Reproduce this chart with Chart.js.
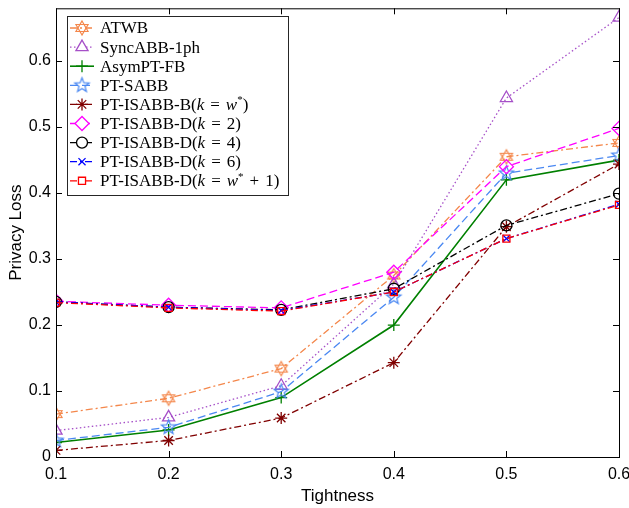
<!DOCTYPE html>
<html>
<head>
<meta charset="utf-8">
<script src="https://cdn.jsdelivr.net/npm/chart.js@4/dist/chart.umd.min.js"></script>
<style>
  html, body { margin: 0; padding: 0; background: #fff; }
  #wrap { width: 629px; height: 508px; }
</style>
</head>
<body>
<div id="wrap"><canvas id="chart" width="629" height="508"></canvas></div>
<script>
// tightness values on the x axis
const tightness = [0.1, 0.2, 0.3, 0.4, 0.5, 0.6];
const yTicks = [0, 0.1, 0.2, 0.3, 0.4, 0.5, 0.6];

const seriesNames = [
  'ATWB', 'SyncABB-1ph', 'AsymPT-FB', 'PT-SABB', 'PT-ISABB-B(k = w*)',
  'PT-ISABB-D(k = 2)', 'PT-ISABB-D(k = 4)', 'PT-ISABB-D(k = 6)', 'PT-ISABB-D(k = w* + 1)'
];

// privacy loss per method
const atwb      = [0.065, 0.089, 0.134, 0.275, 0.455, 0.476];
const syncAbb   = [0.040, 0.060, 0.108, 0.262, 0.544, 0.666];
const asymPtFb  = [0.022, 0.041, 0.090, 0.200, 0.420, 0.450];
const ptSabb    = [0.025, 0.045, 0.099, 0.242, 0.430, 0.457];
const isabbB    = [0.010, 0.025, 0.059, 0.143, 0.349, 0.444];
const isabbD2   = [0.236, 0.230, 0.226, 0.280, 0.440, 0.498];
const isabbD4   = [0.235, 0.227, 0.223, 0.255, 0.351, 0.399];
const isabbD6   = [0.235, 0.227, 0.222, 0.250, 0.331, 0.383];
const isabbDw1  = [0.234, 0.226, 0.221, 0.250, 0.331, 0.382];

// star shaped markers (hexagram / pentagram) drawn on small canvases
function starMarker(points, color, r) {
  const c = document.createElement('canvas');
  const s = Math.ceil(r * 2 + 4);
  c.width = s; c.height = s;
  const g = c.getContext('2d');
  g.strokeStyle = color;
  g.lineWidth = 1.2;
  g.beginPath();
  if (points === 6) {
    // two overlapping triangles
    for (let t = 0; t < 2; t++) {
      for (let i = 0; i < 3; i++) {
        const a = -Math.PI / 2 + t * Math.PI + i * 2 * Math.PI / 3;
        const x = s / 2 + r * Math.cos(a), y = s / 2 + r * Math.sin(a);
        if (i === 0) g.moveTo(x, y); else g.lineTo(x, y);
      }
      g.closePath();
    }
  } else {
    const inner = r * 0.42;
    for (let i = 0; i < points * 2; i++) {
      const rr = i % 2 === 0 ? r : inner;
      const a = -Math.PI / 2 + i * Math.PI / points;
      const x = s / 2 + rr * Math.cos(a), y = s / 2 + rr * Math.sin(a);
      if (i === 0) g.moveTo(x, y); else g.lineTo(x, y);
    }
    g.closePath();
  }
  g.stroke();
  return c;
}

const dashDot = [7, 3, 2, 3];
const dotted = [1.5, 2.5];
const dashed = [8, 4];

const styles = [
  { color: '#F4874B', dash: dashDot, point: starMarker(6, '#F4874B', 7), radius: 7, width: 1.3 },
  { color: '#A650C8', dash: dotted, point: 'triangle', radius: 7, width: 1.3 },
  { color: '#008000', dash: [], point: 'cross', radius: 6, width: 1.6 },
  { color: '#4A88F2', dash: dashed, point: starMarker(5, '#4A88F2', 7.5), radius: 7, width: 1.3 },
  { color: '#800000', dash: dashDot, point: 'star', radius: 6, width: 1.3 },
  { color: '#FF00FF', dash: dashed, point: 'rectRot', radius: 7, width: 1.3 },
  { color: '#000000', dash: dashDot, point: 'circle', radius: 5.5, width: 1.3 },
  { color: '#0000FF', dash: dashDot, point: 'crossRot', radius: 5, width: 1.3 },
  { color: '#FF0000', dash: dashDot, point: 'rect', radius: 5, width: 1.3 }
];

const seriesValues = [atwb, syncAbb, asymPtFb, ptSabb, isabbB, isabbD2, isabbD4, isabbD6, isabbDw1];

const datasets = seriesValues.map((vals, i) => ({
  label: seriesNames[i],
  data: vals.map((v, j) => ({ x: tightness[j], y: v })),
  borderColor: styles[i].color,
  backgroundColor: 'rgba(0,0,0,0)',
  borderWidth: styles[i].width,
  borderDash: styles[i].dash,
  pointStyle: styles[i].point,
  pointRadius: styles[i].radius,
  pointBorderColor: styles[i].color,
  pointBackgroundColor: 'rgba(0,0,0,0)',
  pointBorderWidth: 1.3,
  tension: 0,
  order: seriesValues.length - i
}));

// draws the legend label with italic k / w and superscript *
function drawMathLabel(ctx, text, x, y) {
  const fam = '"Liberation Serif", "DejaVu Serif", serif';
  const base = '17px ' + fam;
  const ital = 'italic 17px ' + fam;
  const sup = '11px ' + fam;
  const open = text.indexOf('(');
  ctx.textBaseline = 'middle';
  ctx.textAlign = 'left';
  let cx = x;
  const put = (s, font, dy) => {
    ctx.font = font;
    ctx.fillText(s, cx, y + (dy || 0));
    cx += ctx.measureText(s).width;
  };
  if (open < 0) { put(text, base); return; }
  put(text.slice(0, open + 1), base);
  for (const ch of text.slice(open + 1)) {
    if (ch === 'k' || ch === 'w') put(ch, ital);
    else if (ch === '*') put('*', sup, -5);
    else if (ch === ' ') cx += 6;
    else put(ch, base);
  }
}

const framePlugin = {
  id: 'frame',
  afterDatasetsDraw(chart) {
    const { ctx, chartArea: a, scales } = chart;
    ctx.save();
    ctx.strokeStyle = '#000';
    ctx.lineWidth = 1;
    ctx.setLineDash([]);
    ctx.strokeRect(a.left + 0.5, a.top + 0.5, a.right - a.left, a.bottom - a.top);
    ctx.beginPath();
    tightness.forEach(v => {
      const px = Math.round(scales.x.getPixelForValue(v)) + 0.5;
      ctx.moveTo(px, a.bottom); ctx.lineTo(px, a.bottom - 6);
      ctx.moveTo(px, a.top); ctx.lineTo(px, a.top + 6);
    });
    yTicks.forEach(v => {
      const py = Math.round(scales.y.getPixelForValue(v)) + 0.5;
      ctx.moveTo(a.left, py); ctx.lineTo(a.left + 6, py);
      ctx.moveTo(a.right, py); ctx.lineTo(a.right - 6, py);
    });
    ctx.stroke();

    // legend box
    const bx = 67.5, by = 16.5, bw = 221, bh = 179;
    ctx.fillStyle = '#fff';
    ctx.fillRect(bx, by, bw, bh);
    ctx.strokeStyle = '#262626';
    ctx.strokeRect(bx, by, bw, bh);
    chart.data.datasets.forEach((ds, i) => {
      const y = 28 + i * 19.1;
      ctx.strokeStyle = ds.borderColor;
      ctx.lineWidth = ds.borderWidth;
      ctx.setLineDash(ds.borderDash);
      ctx.beginPath();
      ctx.moveTo(70, y); ctx.lineTo(94, y);
      ctx.stroke();
      ctx.setLineDash([]);
      ctx.lineWidth = 1.3;
      ctx.strokeStyle = ds.borderColor;
      ctx.fillStyle = '#fff';
      Chart.helpers.drawPoint(ctx, {
        pointStyle: ds.pointStyle, radius: ds.pointRadius, rotation: 0, borderWidth: 1.3
      }, 82, y);
      ctx.fillStyle = '#000';
      drawMathLabel(ctx, ds.label, 100, y + 1);
    });
    ctx.restore();
  }
};

const tickFont = { family: '"Liberation Sans", Arial, sans-serif', size: 16 };

new Chart(document.getElementById('chart'), {
  type: 'line',
  data: { datasets },
  options: {
    responsive: false,
    animation: false,
    layout: { padding: { top: 5, right: 10, left: 0, bottom: 0 } },
    plugins: { legend: { display: false }, tooltip: { enabled: false } },
    scales: {
      x: {
        type: 'linear',
        min: 0.1, max: 0.6,
        afterBuildTicks: s => { s.ticks = tightness.map(v => ({ value: v })); },
        afterFit: s => { s.height = 51; s.paddingLeft = 0; s.paddingRight = 0; },
        grid: { display: false, drawTicks: false },
        border: { display: false },
        ticks: { font: tickFont, color: '#000', padding: 8, maxRotation: 0,
          callback: v => v.toFixed(1) },
        title: { display: true, text: 'Tightness', color: '#000',
          font: { family: '"Liberation Sans", Arial, sans-serif', size: 17 }, padding: { top: 0, bottom: 1 } }
      },
      y: {
        min: 0, max: 0.68,
        afterBuildTicks: s => { s.ticks = yTicks.map(v => ({ value: v })); },
        afterFit: s => { s.width = 56; s.paddingTop = 0; s.paddingBottom = 0; },
        grid: { display: false, drawTicks: false },
        border: { display: false },
        ticks: { font: tickFont, color: '#000', padding: 5,
          callback: v => v === 0 ? '0' : v.toFixed(1) },
        title: { display: true, text: 'Privacy Loss', color: '#000',
          font: { family: '"Liberation Sans", Arial, sans-serif', size: 17 }, padding: { top: 6, bottom: 0 } }
      }
    }
  },
  plugins: [framePlugin]
});
</script>
</body>
</html>
